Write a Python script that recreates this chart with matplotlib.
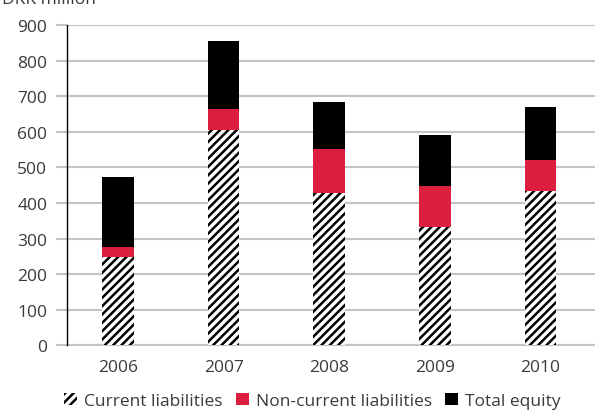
import numpy as np
import matplotlib.pyplot as plt
from matplotlib.patches import Patch

plt.rcParams['font.family'] = ['Open Sans', 'DejaVu Sans']
plt.rcParams['hatch.linewidth'] = 1.8

years = ['2006', '2007', '2008', '2009', '2010']
current_liab = [249, 604, 429, 332, 433]
noncurrent_liab = [27, 59, 122, 115, 87]
total_equity = [196, 191, 132, 143, 149]

red = '#dc1f3e'
grid_col = '#c4c4c4'
txt_col = '#3a3a3a'

fig = plt.figure(figsize=(5.95, 4.14), dpi=100)
ax = fig.add_axes([0.112, 0.1635, 0.888, 0.7735])

x = np.arange(len(years))
w = 0.30
cur = np.array(current_liab)
nonc = np.array(noncurrent_liab)

ax.bar(x, cur, w, color='white', edgecolor='black', hatch='////', linewidth=0, zorder=3)
ax.bar(x, nonc, w, bottom=cur, color=red, linewidth=0, zorder=3)
ax.bar(x, total_equity, w, bottom=cur + nonc, color='black', linewidth=0, zorder=3)

ax.set_xlim(-0.485, 4.515)
ax.set_ylim(0, 900)
ax.set_yticks(range(0, 901, 100))
ax.set_xticks(x)
ax.set_xticklabels(years)
ax.yaxis.grid(True, color=grid_col, linewidth=1.5, zorder=0)
ax.set_axisbelow(True)

for s in ['top', 'right']:
    ax.spines[s].set_visible(False)
ax.spines['left'].set_color('black')
ax.spines['left'].set_linewidth(1.0)
ax.spines['left'].set_zorder(4)
ax.spines['bottom'].set_color(grid_col)
ax.spines['bottom'].set_linewidth(1.5)

ax.tick_params(axis='y', length=8, width=1.5, color=grid_col, labelsize=12.5,
               labelcolor=txt_col, pad=6)
ax.tick_params(axis='x', length=0, labelsize=12.5, labelcolor=txt_col, pad=10)

# unit label sits at the very top edge
fig.text(0.003, 1 - 4 / 414, 'DKK million', fontsize=12.5, color=txt_col,
         va='baseline', ha='left')

handles = [
    Patch(facecolor='white', edgecolor='black', hatch='////', linewidth=0),
    Patch(facecolor=red, linewidth=0),
    Patch(facecolor='black', linewidth=0),
]
labels = ['Current liabilities', 'Non-current liabilities', 'Total equity']
leg = fig.legend(handles, labels, loc='lower center', bbox_to_anchor=(0.525, -0.028),
                 ncol=3, frameon=False, fontsize=12.5, handlelength=0.75,
                 handleheight=0.75, handletextpad=0.4, columnspacing=0.75)
for t in leg.get_texts():
    t.set_color(txt_col)

fig.savefig('out.png', dpi=100)
